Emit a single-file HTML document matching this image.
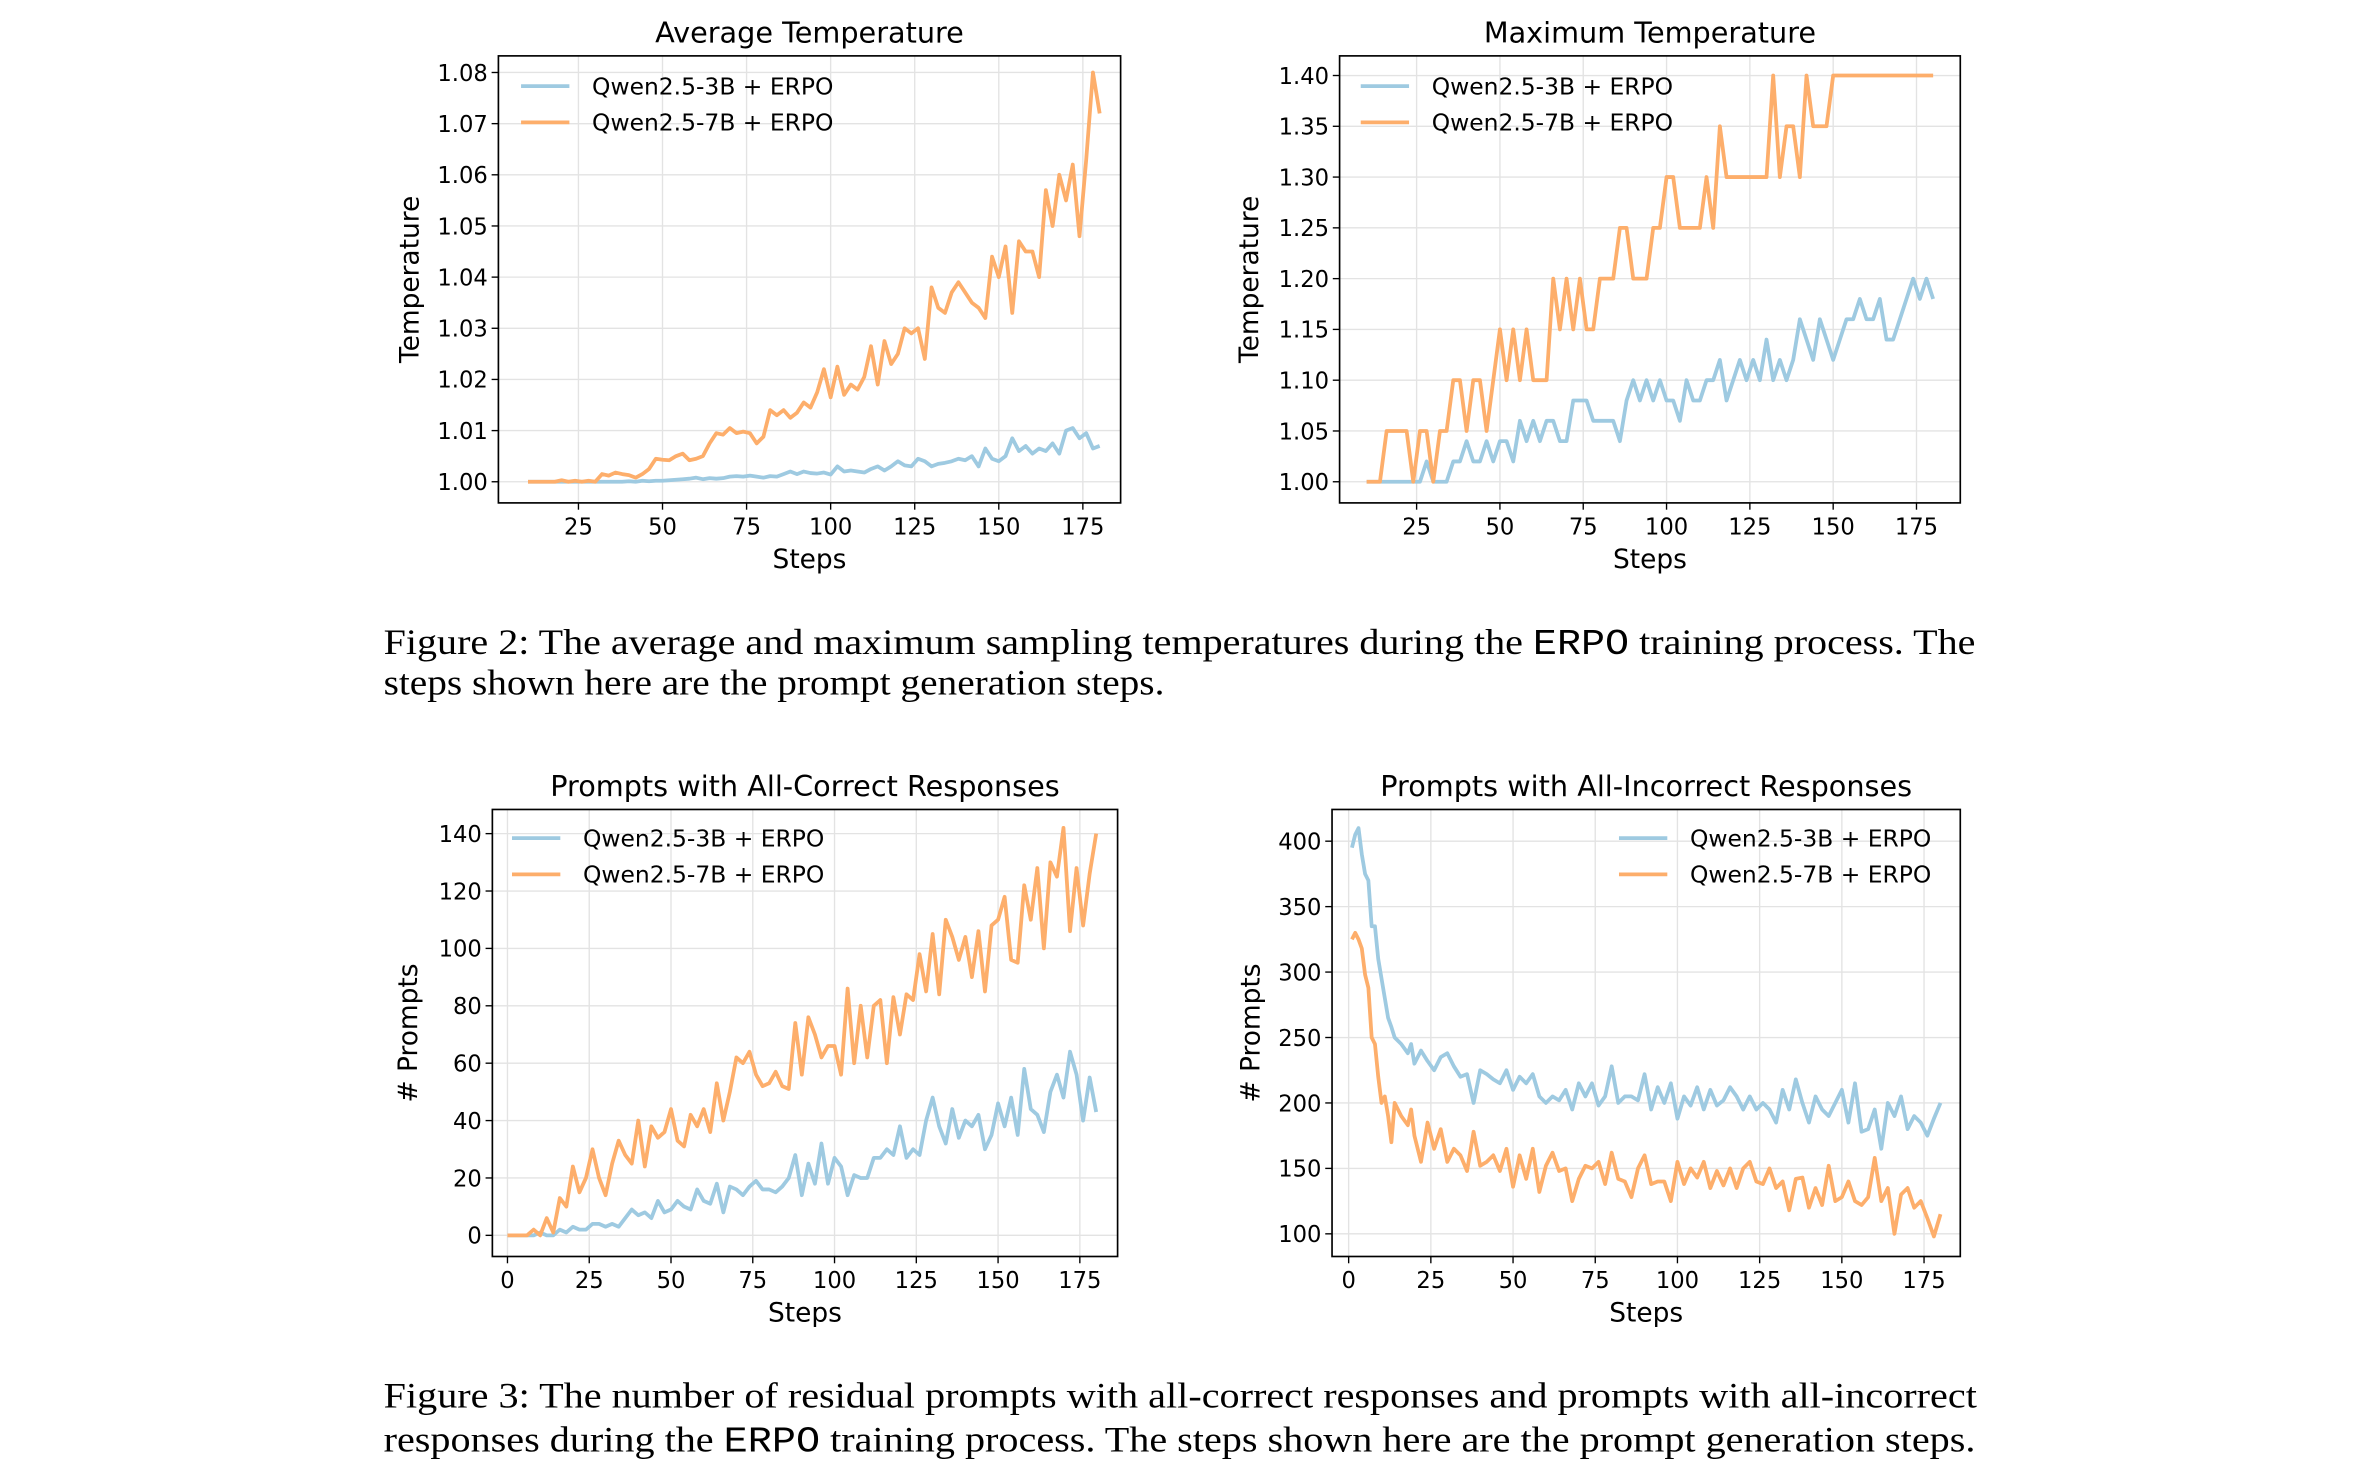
<!DOCTYPE html>
<html><head><meta charset="utf-8"><style>
html,body{margin:0;padding:0;background:#fff;}
svg{display:block;}
.cap{font-family:"Liberation Serif","Times New Roman",Times,serif;font-size:24px;}
.mono{font-family:"Liberation Mono","Courier New",monospace;}
</style></head><body>
<svg id="fig" width="2356" height="1480" viewBox="0 0 1560 980" xmlns="http://www.w3.org/2000/svg">
<text class="cap" x="254" y="433" textLength="1054" lengthAdjust="spacingAndGlyphs">Figure 2:  The average and maximum sampling temperatures during the <tspan class="mono">ERPO</tspan> training process. The</text>
<text class="cap" x="254" y="460" textLength="517" lengthAdjust="spacingAndGlyphs">steps shown here are the prompt generation steps.</text>
<text class="cap" x="254" y="932" textLength="1055" lengthAdjust="spacingAndGlyphs">Figure 3:  The number of residual prompts with all-correct responses and prompts with all-incorrect</text>
<text class="cap" x="254" y="961" textLength="1054" lengthAdjust="spacingAndGlyphs">responses during the <tspan class="mono">ERPO</tspan> training process. The steps shown here are the prompt generation steps.</text>
</svg>
<script>
// ---- Chart 1: Average Temperature ----
const avgSteps = [10,12,14,16,18,20,22,24,26,28,30,32,34,36,38,40,42,44,46,48,50,52,54,56,58,60,62,64,66,68,70,72,74,76,78,80,82,84,86,88,90,92,94,96,98,100,102,104,106,108,110,112,114,116,118,120,122,124,126,128,130,132,134,136,138,140,142,144,146,148,150,152,154,156,158,160,162,164,166,168,170,172,174,176,178,180];
const avg7B = [1.000,1.000,1.000,1.000,1.000,1.0003,1.000,1.0002,1.000,1.0002,1.000,1.0015,1.0012,1.0018,1.0015,1.0013,1.0008,1.0015,1.0025,1.0045,1.0043,1.0042,1.005,1.0055,1.0042,1.0045,1.005,1.0075,1.0095,1.0092,1.0105,1.0095,1.0098,1.0095,1.0075,1.0088,1.014,1.013,1.014,1.0125,1.0135,1.0155,1.0145,1.0175,1.022,1.0165,1.0225,1.017,1.019,1.018,1.0205,1.0265,1.019,1.0275,1.023,1.025,1.030,1.029,1.030,1.024,1.038,1.034,1.033,1.037,1.039,1.037,1.035,1.034,1.032,1.044,1.040,1.046,1.033,1.047,1.045,1.045,1.040,1.057,1.050,1.060,1.055,1.062,1.048,1.063,1.080,1.072];
const avg3B = [1.000,1.000,1.000,1.000,1.000,1.000,1.000,1.000,1.000,1.000,1.000,1.000,1.000,1.000,1.000,1.0001,1.000,1.0002,1.0001,1.0002,1.0002,1.0003,1.0004,1.0005,1.0006,1.0008,1.0005,1.0007,1.0006,1.0007,1.001,1.0011,1.001,1.0012,1.001,1.0008,1.0011,1.001,1.0015,1.002,1.0015,1.002,1.0017,1.0016,1.0018,1.0014,1.003,1.002,1.0022,1.002,1.0018,1.0025,1.003,1.0022,1.003,1.004,1.0032,1.003,1.0045,1.004,1.003,1.0035,1.0037,1.004,1.0045,1.0042,1.005,1.003,1.0065,1.0045,1.004,1.005,1.0085,1.006,1.007,1.0055,1.0065,1.006,1.0075,1.0055,1.010,1.0105,1.0085,1.0095,1.0065,1.007];
const avgYTicks = [1.00,1.01,1.02,1.03,1.04,1.05,1.06,1.07,1.08];
const avgYLabels = ["1.00","1.01","1.02","1.03","1.04","1.05","1.06","1.07","1.08"];

// ---- Chart 2: Maximum Temperature ----
const maxSteps = [10,12,14,16,18,20,22,24,26,28,30,32,34,36,38,40,42,44,46,48,50,52,54,56,58,60,62,64,66,68,70,72,74,76,78,80,82,84,86,88,90,92,94,96,98,100,102,104,106,108,110,112,114,116,118,120,122,124,126,128,130,132,134,136,138,140,142,144,146,148,150,152,154,156,158,160,162,164,166,168,170,172,174,176,178,180];
const max7B = [1.00,1.00,1.00,1.05,1.05,1.05,1.05,1.00,1.05,1.05,1.00,1.05,1.05,1.10,1.10,1.05,1.10,1.10,1.05,1.10,1.15,1.10,1.15,1.10,1.15,1.10,1.10,1.10,1.20,1.15,1.20,1.15,1.20,1.15,1.15,1.20,1.20,1.20,1.25,1.25,1.20,1.20,1.20,1.25,1.25,1.30,1.30,1.25,1.25,1.25,1.25,1.30,1.25,1.35,1.30,1.30,1.30,1.30,1.30,1.30,1.30,1.40,1.30,1.35,1.35,1.30,1.40,1.35,1.35,1.35,1.40,1.40,1.40,1.40,1.40,1.40,1.40,1.40,1.40,1.40,1.40,1.40,1.40,1.40,1.40,1.40];
const max3B = [1.00,1.00,1.00,1.00,1.00,1.00,1.00,1.00,1.00,1.02,1.00,1.00,1.00,1.02,1.02,1.04,1.02,1.02,1.04,1.02,1.04,1.04,1.02,1.06,1.04,1.06,1.04,1.06,1.06,1.04,1.04,1.08,1.08,1.08,1.06,1.06,1.06,1.06,1.04,1.08,1.10,1.08,1.10,1.08,1.10,1.08,1.08,1.06,1.10,1.08,1.08,1.10,1.10,1.12,1.08,1.10,1.12,1.10,1.12,1.10,1.14,1.10,1.12,1.10,1.12,1.16,1.14,1.12,1.16,1.14,1.12,1.14,1.16,1.16,1.18,1.16,1.16,1.18,1.14,1.14,1.16,1.18,1.20,1.18,1.20,1.18];
const maxYTicks = [1.00,1.05,1.10,1.15,1.20,1.25,1.30,1.35,1.40];
const maxYLabels = ["1.00","1.05","1.10","1.15","1.20","1.25","1.30","1.35","1.40"];
const tempXTicks = [25,50,75,100,125,150,175];

// ---- Chart 3: All-Correct ----
const corSteps = [0,2,4,6,8,10,12,14,16,18,20,22,24,26,28,30,32,34,36,38,40,42,44,46,48,50,52,54,56,58,60,62,64,66,68,70,72,74,76,78,80,82,84,86,88,90,92,94,96,98,100,102,104,106,108,110,112,114,116,118,120,122,124,126,128,130,132,134,136,138,140,142,144,146,148,150,152,154,156,158,160,162,164,166,168,170,172,174,176,178,180];
const cor7B = [0,0,0,0,2,0,6,1,13,10,24,15,20,30,20,14,25,33,28,25,40,24,38,34,36,44,33,31,42,38,44,36,53,40,50,62,60,64,56,52,53,57,52,51,74,56,76,70,62,66,66,56,86,60,80,62,80,82,60,83,70,84,82,98,85,105,84,110,104,96,104,90,106,85,108,110,118,96,95,122,110,128,100,130,125,142,106,128,108,126,140];
const cor3B = [0,0,0,0,0,1,0,0,2,1,3,2,2,4,4,3,4,3,6,9,7,8,6,12,8,9,12,10,9,16,12,11,18,8,17,16,14,17,19,16,16,15,17,20,28,14,25,18,32,18,27,24,14,21,20,20,27,27,30,28,38,27,30,28,40,48,38,32,44,34,40,38,42,30,35,46,38,48,35,58,44,42,36,50,56,48,64,56,40,55,43];
const corYTicks = [0,20,40,60,80,100,120,140];
const corYLabels = ["0","20","40","60","80","100","120","140"];

// ---- Chart 4: All-Incorrect ----
const incSteps = [1,2,3,4,5,6,7,8,9,10,11,12,13,14,16,18,19,20,22,24,26,28,30,32,34,36,38,40,42,44,46,48,50,52,54,56,58,60,62,64,66,68,70,72,74,76,78,80,82,84,86,88,90,92,94,96,98,100,102,104,106,108,110,112,114,116,118,120,122,124,126,128,130,132,134,136,138,140,142,144,146,148,150,152,154,156,158,160,162,164,166,168,170,172,174,176,178,180];
const inc3B = [395,405,410,390,375,370,335,335,310,295,280,265,258,250,245,238,245,230,240,232,225,235,238,228,220,222,200,225,222,218,215,225,210,220,215,222,205,200,205,202,210,195,215,205,215,198,205,228,200,205,205,202,222,195,212,200,215,188,205,198,212,195,210,198,202,212,205,195,205,195,200,195,185,210,195,218,200,185,205,195,190,200,210,185,215,178,180,195,165,200,190,205,180,190,185,175,188,200];
const inc7B = [325,330,325,318,298,288,250,245,220,200,205,190,170,200,190,183,195,175,155,185,165,180,155,165,160,148,178,152,155,160,148,165,136,160,142,165,132,152,162,148,150,125,142,152,150,155,138,162,142,140,128,150,160,138,140,140,125,155,138,150,143,155,135,148,137,150,135,150,155,140,138,150,135,140,118,142,143,120,135,122,152,125,128,140,125,122,128,158,125,135,100,130,135,120,125,112,98,115];
const incYTicks = [100,150,200,250,300,350,400];
const incYLabels = ["100","150","200","250","300","350","400"];
const promptXTicks = [0,25,50,75,100,125,150,175];

const BLUE = "#9ecae1", ORANGE = "#fdae6b";
const NS = "http://www.w3.org/2000/svg";
const svg = document.getElementById("fig");
const FONT = "'DejaVu Sans', 'Liberation Sans', sans-serif";

function mk(tag, attrs, parent) {
  const e = document.createElementNS(NS, tag);
  for (const k in attrs) e.setAttribute(k, attrs[k]);
  (parent || svg).appendChild(e);
  return e;
}
function txt(s, attrs, parent) { const t = mk("text", attrs, parent); t.textContent = s; t.style.fontFamily = FONT; return t; }

function chart(cfg) {
  const g = mk("g", {});
  
  
  const X = v => cfg.px0 + (v - cfg.xv0) * (cfg.px1 - cfg.px0) / (cfg.xv1 - cfg.xv0);
  const Y = v => cfg.py0 + (v - cfg.yv0) * (cfg.py1 - cfg.py0) / (cfg.yv1 - cfg.yv0);
  const b = cfg.box;
  cfg.xticks.forEach(t => {
    const l = mk("line", {x1: X(t), x2: X(t), y1: b.t, y2: b.b, stroke: "#e3e3e3", "stroke-width": 0.9}, g);
    
    
  });
  cfg.yticks.forEach(t => {
    const l = mk("line", {x1: b.l, x2: b.r, y1: Y(t), y2: Y(t), stroke: "#e3e3e3", "stroke-width": 0.9}, g);
    
    
  });
  cfg.series.forEach(s => {
    const d = s.x.map((v, i) => (i ? "L" : "M") + X(v).toFixed(2) + "," + Y(s.y[i]).toFixed(2)).join("");
    const p = mk("path", {d: d, fill: "none", stroke: s.color, "stroke-width": 2.5, "stroke-linejoin": "round"}, g);
    
    
  });
  const fr = mk("rect", {x: b.l, y: b.t, width: b.r - b.l, height: b.b - b.t, fill: "none", stroke: "#000", "stroke-width": 1.1}, g);
  
  
  cfg.xticks.forEach((t, i) => {
    mk("line", {x1: X(t), x2: X(t), y1: b.b, y2: b.b + 4.5, stroke: "#000", "stroke-width": 0.9}, g);
    const tl = txt(String(t), {x: X(t), y: b.b + 21, "font-size": 15, "text-anchor": "middle"}, g);
    
    
  });
  cfg.yticks.forEach((t, i) => {
    mk("line", {x1: b.l - 4.5, x2: b.l, y1: Y(t), y2: Y(t), stroke: "#000", "stroke-width": 0.9}, g);
    const tl = txt(cfg.ylabels[i], {x: b.l - 7, y: Y(t) + 5.5, "font-size": 15, "text-anchor": "end"}, g);
    
    
  });
  const ti = txt(cfg.title, {x: (b.l + b.r) / 2, y: b.t - 9, "font-size": 19, "text-anchor": "middle"}, g);
  
  
  const xl = txt("Steps", {x: (b.l + b.r) / 2, y: b.b + 43, "font-size": 17.5, "text-anchor": "middle"}, g);
  
  
  const yc = (b.t + b.b) / 2;
  const yl = txt(cfg.ylabel, {x: cfg.ylx, y: yc, "font-size": 17.5, "text-anchor": "middle", transform: "rotate(-90 " + cfg.ylx + " " + yc + ")"}, g);
  
  
  const L = cfg.legend;
  cfg.series.forEach((s, i) => {
    const yy = L.y + i * 24;
    const ln = mk("line", {x1: L.x, x2: L.x + 32, y1: yy, y2: yy, stroke: s.color, "stroke-width": 2.5}, g);
    
    
    const lt = txt(s.label, {x: L.x + 47, y: yy + 5.5, "font-size": 15.5}, g);
    
    
  });
}

chart({name: "average-temperature-chart", title: "Average Temperature", ylabel: "Temperature", ylx: 277,
  box: {l: 330, r: 742, t: 37, b: 333}, xv0: 25, xv1: 175, px0: 383, px1: 717, yv0: 1.00, yv1: 1.08, py0: 319, py1: 48,
  xticks: tempXTicks, yticks: avgYTicks, ylabels: avgYLabels, legend: {x: 345, y: 57},
  series: [{name: "line-qwen-3b", label: "Qwen2.5-3B + ERPO", color: BLUE, x: avgSteps, y: avg3B},
           {name: "line-qwen-7b", label: "Qwen2.5-7B + ERPO", color: ORANGE, x: avgSteps, y: avg7B}]});

chart({name: "maximum-temperature-chart", title: "Maximum Temperature", ylabel: "Temperature", ylx: 833,
  box: {l: 887, r: 1298, t: 37, b: 333}, xv0: 25, xv1: 175, px0: 938, px1: 1269, yv0: 1.00, yv1: 1.40, py0: 319, py1: 50,
  xticks: tempXTicks, yticks: maxYTicks, ylabels: maxYLabels, legend: {x: 901, y: 57},
  series: [{name: "line-qwen-3b", label: "Qwen2.5-3B + ERPO", color: BLUE, x: maxSteps, y: max3B},
           {name: "line-qwen-7b", label: "Qwen2.5-7B + ERPO", color: ORANGE, x: maxSteps, y: max7B}]});

chart({name: "all-correct-chart", title: "Prompts with All-Correct Responses", ylabel: "# Prompts", ylx: 276,
  box: {l: 326, r: 740, t: 536, b: 832}, xv0: 0, xv1: 175, px0: 336, px1: 715, yv0: 0, yv1: 140, py0: 818, py1: 552,
  xticks: promptXTicks, yticks: corYTicks, ylabels: corYLabels, legend: {x: 339, y: 555},
  series: [{name: "line-qwen-3b", label: "Qwen2.5-3B + ERPO", color: BLUE, x: corSteps, y: cor3B},
           {name: "line-qwen-7b", label: "Qwen2.5-7B + ERPO", color: ORANGE, x: corSteps, y: cor7B}]});

chart({name: "all-incorrect-chart", title: "Prompts with All-Incorrect Responses", ylabel: "# Prompts", ylx: 834,
  box: {l: 882, r: 1298, t: 536, b: 832}, xv0: 0, xv1: 175, px0: 893, px1: 1274, yv0: 100, yv1: 400, py0: 817, py1: 557,
  xticks: promptXTicks, yticks: incYTicks, ylabels: incYLabels, legend: {x: 1072, y: 555},
  series: [{name: "line-qwen-3b", label: "Qwen2.5-3B + ERPO", color: BLUE, x: incSteps, y: inc3B},
           {name: "line-qwen-7b", label: "Qwen2.5-7B + ERPO", color: ORANGE, x: incSteps, y: inc7B}]});
</script>
</body></html>
